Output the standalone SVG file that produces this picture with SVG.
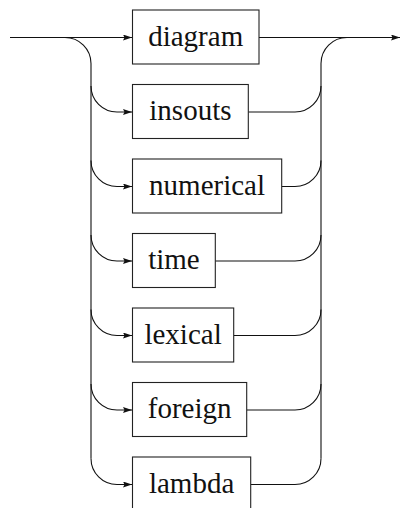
<svg xmlns="http://www.w3.org/2000/svg" width="401" height="508" viewBox="0 0 401 508">
<style>
.box{fill:#fff;stroke:#222;stroke-width:1.1}
.lbl{font-family:"Liberation Serif","DejaVu Serif",serif;font-size:29px;fill:#111;text-anchor:middle}
.ln{fill:none;stroke:#111;stroke-width:1.1}
</style>
<defs>
<marker id="ah" markerUnits="userSpaceOnUse" markerWidth="10" markerHeight="8" refX="9" refY="3" orient="auto">
<path d="M0,0 L9,3 L0,6 L1.5,3 z" fill="#111"/>
</marker>
</defs>
<g id="connectors">
<path class="ln" d="M10,37.5 H132" marker-end="url(#ah)"/>
<path class="ln" d="M259,37.5 H400" marker-end="url(#ah)"/>
<path class="ln" d="M65,37.5 A26,26 0 0 1 91,63.5 V458.5"/>
<path class="ln" d="M91,86 A26,26 0 0 0 117,112 H132" marker-end="url(#ah)"/>
<path class="ln" d="M91,160.5 A26,26 0 0 0 117,186.5 H132" marker-end="url(#ah)"/>
<path class="ln" d="M91,235 A26,26 0 0 0 117,261 H132" marker-end="url(#ah)"/>
<path class="ln" d="M91,309.5 A26,26 0 0 0 117,335.5 H132" marker-end="url(#ah)"/>
<path class="ln" d="M91,384 A26,26 0 0 0 117,410 H132" marker-end="url(#ah)"/>
<path class="ln" d="M91,458.5 A26,26 0 0 0 117,484.5 H132" marker-end="url(#ah)"/>
<path class="ln" d="M321,458.5 V63.5 A26,26 0 0 1 347,37.5"/>
<path class="ln" d="M248.3,112 H295 A26,26 0 0 0 321,86"/>
<path class="ln" d="M281.7,186.5 H295 A26,26 0 0 0 321,160.5"/>
<path class="ln" d="M215.3,261 H295 A26,26 0 0 0 321,235"/>
<path class="ln" d="M233.7,335.5 H295 A26,26 0 0 0 321,309.5"/>
<path class="ln" d="M246.7,410 H295 A26,26 0 0 0 321,384"/>
<path class="ln" d="M250.7,484.5 H295 A26,26 0 0 0 321,458.5"/>
</g>
<g id="n-diagram"><rect class="box" x="132.5" y="10" width="126.5" height="54"/><text class="lbl" x="195.7" y="45.5">diagram</text></g>
<g id="n-insouts"><rect class="box" x="132.5" y="84.5" width="115.8" height="54"/><text class="lbl" x="190.4" y="120">insouts</text></g>
<g id="n-numerical"><rect class="box" x="132.5" y="159" width="149.2" height="54"/><text class="lbl" x="207.1" y="194.5">numerical</text></g>
<g id="n-time"><rect class="box" x="132.5" y="233.5" width="82.8" height="54"/><text class="lbl" x="173.9" y="269">time</text></g>
<g id="n-lexical"><rect class="box" x="132.5" y="308" width="101.2" height="54"/><text class="lbl" x="183.1" y="343.5">lexical</text></g>
<g id="n-foreign"><rect class="box" x="132.5" y="382.5" width="114.2" height="54"/><text class="lbl" x="189.6" y="418">foreign</text></g>
<g id="n-lambda"><rect class="box" x="132.5" y="457" width="118.2" height="54"/><text class="lbl" x="191.6" y="492.5">lambda</text></g>
</svg>
